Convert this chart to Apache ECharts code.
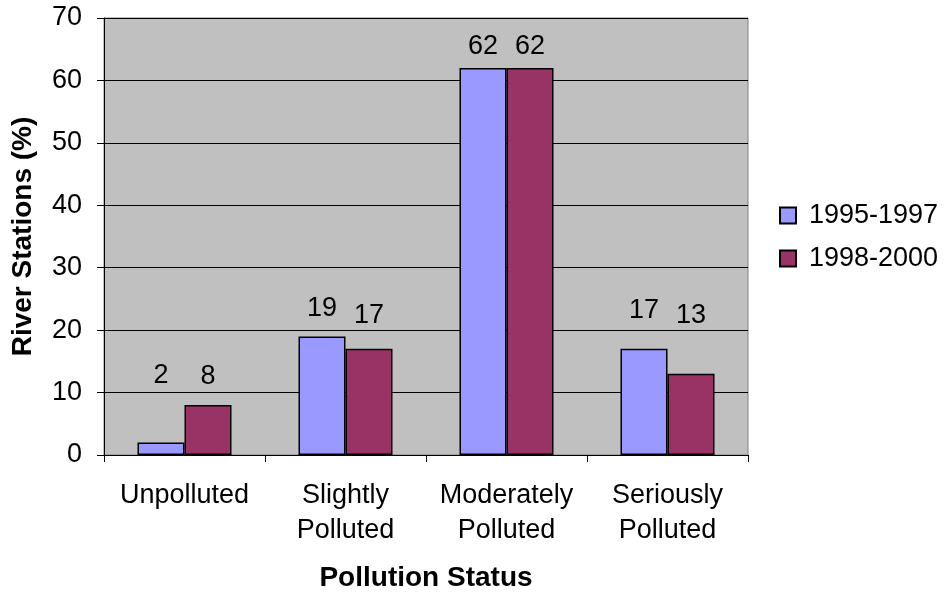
<!DOCTYPE html>
<html>
<head>
<meta charset="utf-8">
<script src="https://cdn.jsdelivr.net/npm/echarts@6/dist/echarts.min.js"></script>
<style>
  html, body { margin: 0; padding: 0; background: #fff; }
  #chart { width: 949px; height: 596px; }
</style>
</head>
<body>
<div id="chart"></div>
<script>
// Share of river monitoring stations by pollution status
const categories = ['Unpolluted', 'Slightly\nPolluted', 'Moderately\nPolluted', 'Seriously\nPolluted'];
const period1Name = '1995-1997';
const period2Name = '1998-2000';
const period1Values = [2, 19, 62, 17];
const period2Values = [8, 17, 62, 13];
const yTicks = { min: 0, max: 70, interval: 10 };

// Gap (px) between each bar top and its value label
const period1LabelGap = [53, 14, 8, 25];
const period2LabelGap = [15, 20, 8, 45];

const font = 'Liberation Sans, Arial, sans-serif';
const chart = echarts.init(document.getElementById('chart'), null, { renderer: 'canvas' });

function withLabels(values, gaps) {
  return values.map((v, i) => ({ value: v, label: { distance: gaps[i] } }));
}

const labelStyle = {
  show: true,
  position: 'top',
  color: '#000',
  fontFamily: font,
  fontSize: 27
};

chart.setOption({
  backgroundColor: '#fff',
  animation: false,
  textStyle: { fontFamily: font, color: '#000' },
  grid: {
    left: 104, right: 201, top: 18, bottom: 141,
    outerBoundsMode: 'none',
    containLabel: false,
    show: true,
    backgroundColor: '#C0C0C0',
    borderColor: '#808080',
    borderWidth: 1
  },
  legend: {
    orient: 'vertical',
    left: 774,
    top: 197,
    itemWidth: 16,
    itemHeight: 16,
    itemGap: 16,
    icon: 'rect',
    textStyle: { fontFamily: font, fontSize: 27, color: '#000', padding: [0, 0, 0, 8] },
    data: [period1Name, period2Name]
  },
  xAxis: {
    type: 'category',
    data: categories,
    name: 'Pollution Status',
    nameLocation: 'middle',
    nameGap: 109,
    nameTextStyle: { fontFamily: font, fontSize: 28, fontWeight: 'bold', color: '#000' },
    axisLine: { lineStyle: { color: '#000', width: 1 } },
    axisTick: { show: true, length: 7, lineStyle: { color: '#000' } },
    axisLabel: {
      color: '#000', fontFamily: font, fontSize: 27, lineHeight: 35,
      margin: 23, interval: 0
    },
    splitLine: { show: false }
  },
  yAxis: {
    type: 'value',
    min: yTicks.min,
    max: yTicks.max,
    interval: yTicks.interval,
    name: 'River Stations (%)',
    nameLocation: 'middle',
    nameGap: 67,
    nameRotate: 90,
    nameTextStyle: { fontFamily: font, fontSize: 28, fontWeight: 'bold', color: '#000' },
    axisLine: { show: true, lineStyle: { color: '#000', width: 1 } },
    axisTick: { show: true, length: 7, lineStyle: { color: '#000' } },
    axisLabel: { color: '#000', fontFamily: font, fontSize: 27, margin: 22 },
    splitLine: { show: true, lineStyle: { color: '#000', width: 1 } }
  },
  series: [
    {
      name: period1Name,
      type: 'bar',
      data: withLabels(period1Values, period1LabelGap),
      barWidth: 47,
      barGap: '0%',
      itemStyle: { color: '#9999FF', borderColor: '#000', borderWidth: 1.5 },
      label: labelStyle
    },
    {
      name: period2Name,
      type: 'bar',
      data: withLabels(period2Values, period2LabelGap),
      barWidth: 47,
      barGap: '0%',
      itemStyle: { color: '#993366', borderColor: '#000', borderWidth: 1.5 },
      label: labelStyle
    }
  ]
});
</script>
</body>
</html>
